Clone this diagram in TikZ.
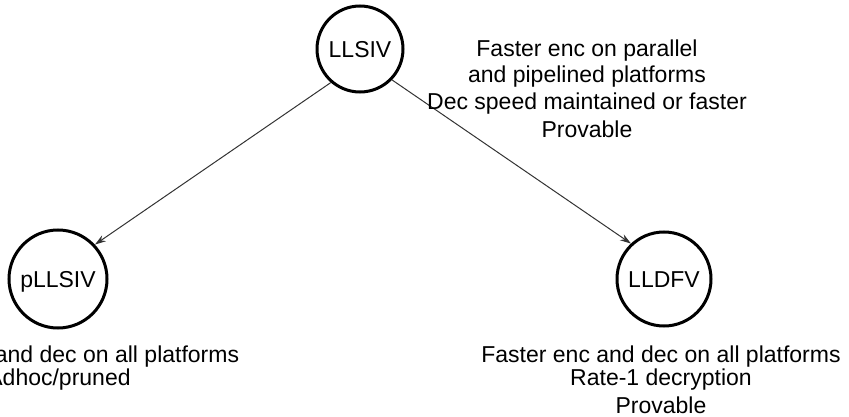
\documentclass[tikz,border=0pt]{standalone}
\usepackage{fontspec}
\setmainfont{Liberation Sans}
\usetikzlibrary{arrows.meta}
\begin{document}
\begin{tikzpicture}[x=1pt,y=-1pt,
  state/.style={circle,draw,line width=3pt,inner sep=0pt,font=\fontsize{23}{27}\selectfont,text height=16.5pt,text depth=0pt},
  txt/.style={anchor=base,inner sep=0pt,font=\fontsize{23}{27}\selectfont},
  edge/.style={draw=black!80,line width=1pt,-{Stealth[length=11pt,width=7pt]}}]
\useasboundingbox (0,0) rectangle (849,417);
\clip (0,0) rectangle (849,417);
\node[state,minimum size=86pt] (llsiv) at (360,49) {LLSIV};
\node[state,minimum size=98pt] (pllsiv) at (58,279) {pLLSIV};
\node[state,minimum size=94pt] (lldfv) at (664,279) {LLDFV};
\draw[edge] (llsiv.229) -- (pllsiv.43);
\draw[edge] (llsiv.316) -- (lldfv.133);
% top-right description
\node[txt] (t1) at (587,57) {Faster enc on parallel};
\node[txt] (t2) at (587,83) {and pipelined platforms};
\node[txt] (t3) at (587,110) {Dec speed maintained or faster};
\node[txt] (t4) at (587,138) {Provable};
% bottom-right description
\node[txt] (r1) at (661,362) {Faster enc and dec on all platforms};
\node[txt] (r2) at (661,385) {Rate-1 decryption};
\node[txt] (r3) at (661,413) {Provable};
% bottom-left description
\node[txt] (l1) at (59.5,362) {Faster enc and dec on all platforms};
\node[txt] (l2) at (59,385) {Adhoc/pruned};
\end{tikzpicture}
\end{document}
